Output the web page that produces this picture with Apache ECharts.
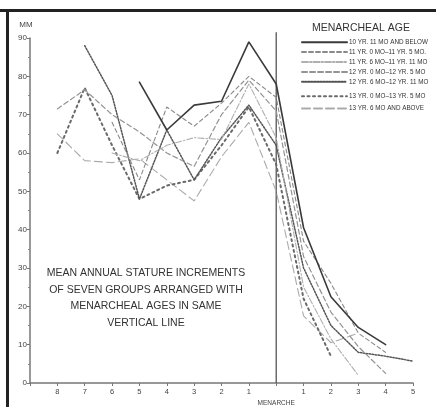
<!DOCTYPE html>
<html>
<head>
<meta charset="utf-8">
<script src="https://cdn.jsdelivr.net/npm/echarts@6/dist/echarts.min.js"></script>
<style>
  html, body { margin: 0; padding: 0; background: #fff; }
  #chart { width: 436px; height: 407px; }
</style>
</head>
<body>
<div id="chart"></div>
<script>
// years before (-) and after (+) menarche
var xValues = [-8, -7, -6, -5, -4, -3, -2, -1, 0, 1, 2, 3, 4, 5];
var xTickLabels = ['8', '7', '6', '5', '4', '3', '2', '1', 'MENARCHE', '1', '2', '3', '4', '5'];
var yTickLabels = ['0', '10', '20', '30', '40', '50', '60', '70', '80', '90'];

var groupNames = [
  '10 YR. 11 MO AND BELOW',
  '11 YR. 0 MO\u201311 YR. 5 MO.',
  '11 YR. 6 MO\u201311 YR. 11 MO',
  '12 YR. 0 MO\u201312 YR. 5 MO',
  '12 YR. 6 MO\u201312 YR. 11 MO',
  '13 YR. 0 MO\u201313 YR. 5 MO',
  '13 YR. 6 MO AND ABOVE'
];

// mean annual stature increments, mm
var g1 = [null, null, null, 78.5, 66, 72.5, 73.5, 89, 78, 40.5, 22.5, 14.5, 10, null];
var g2 = [null, null, 68, 53, 72, 67, 73, 80, 74.5, 37, 26, 13, 8, null];
var g3 = [null, null, 60, 58, 62, 64, 63.5, 78, 64, 25, 11.5, 2, null, null];
var g4 = [71.5, 76.5, 70, 65.5, 60, 56.5, 70, 79, 71, 33, 18.5, 9.5, 2.5, null];
var g5 = [null, 88, 75, 48, 66, 53, 64, 72.5, 62, 30, 15, 8, 7, 5.7];
var g6 = [60, 77, 62, 48, 51.5, 53, 62, 72, 57, 22, 7, null, null, null];
var g7 = [65, 58, 57.5, 58.5, 53, 47.5, 59, 68, 50, 17.5, 10.5, 13, null, null];

// vertical line at menarche (x, from, to)
var menarcheLine = [[0, 0], [0, 91.5]];

var chart = echarts.init(document.getElementById('chart'), null, { renderer: 'canvas' });

function pairs(arr) {
  var out = [];
  for (var i = 0; i < xValues.length; i++) {
    if (arr[i] != null) out.push([xValues[i], arr[i]]);
  }
  return out;
}

// line looks of the old drawing
var styles = [
  { color: '#3a3a3a', width: 1.6, type: 'solid' },
  { color: '#8a8a8a', width: 1.1, type: [4, 3] },
  { color: '#b0b0b0', width: 1.1, type: [6, 2, 1.5, 2] },
  { color: '#939393', width: 1.2, type: [5, 3] },
  { color: '#555555', width: 1.5, type: [1.5, 1.5] },
  { color: '#6a6a6a', width: 2, type: [2, 3.5] },
  { color: '#ababab', width: 1.1, type: [8, 4] }
];
var groups = [g1, g2, g3, g4, g5, g6, g7];

var series = [];
for (var i = 0; i < groups.length; i++) {
  series.push({
    name: groupNames[i],
    type: 'line',
    data: pairs(groups[i]),
    symbol: 'none',
    connectNulls: false,
    clip: false,
    lineStyle: { color: styles[i].color, width: styles[i].width, type: styles[i].type, cap: 'round' },
    itemStyle: { color: styles[i].color },
    z: 10 - i
  });
}
series.push({
  name: 'menarche',
  type: 'line',
  data: menarcheLine,
  symbol: 'none',
  clip: false,
  silent: true,
  lineStyle: { color: '#555', width: 1.3, type: 'solid' },
  z: 1
});

var fontFam = "'Liberation Sans', Arial, sans-serif";

var legendBase = {
  orient: 'vertical',
  left: 301,
  padding: 0,
  itemWidth: 45,
  itemHeight: 8,
  itemStyle: { opacity: 0 },
  textStyle: { fontSize: 6.3, color: '#333', padding: [0, 0, 0, -3], fontFamily: fontFam },
  selectedMode: false
};

var option = {
  backgroundColor: '#fff',
  animation: false,
  textStyle: { fontFamily: fontFam },
  title: [{
    text: 'MENARCHEAL AGE',
    left: 312,
    top: 23,
    padding: 0,
    textStyle: { fontSize: 10.5, fontWeight: 'normal', color: '#333', fontFamily: fontFam }
  }, {
    text: 'MEAN ANNUAL STATURE INCREMENTS\nOF SEVEN GROUPS ARRANGED WITH\nMENARCHEAL AGES IN SAME\nVERTICAL LINE',
    left: 146,
    top: 265,
    padding: 0,
    textAlign: 'center',
    textStyle: { fontSize: 10.5, fontWeight: 'normal', color: '#333', lineHeight: 16.5, fontFamily: fontFam }
  }],
  legend: [
    Object.assign({}, legendBase, { top: 39, itemGap: 3.5, data: groupNames.slice(0, 5) }),
    Object.assign({}, legendBase, { top: 93, itemGap: 6, data: groupNames.slice(5) })
  ],
  grid: { left: 30, right: 23, top: 38, bottom: 23, containLabel: false },
  xAxis: {
    type: 'value',
    min: -9,
    max: 5,
    interval: 1,
    splitLine: { show: false },
    axisLine: { onZero: false, lineStyle: { color: '#777', width: 1.5 } },
    axisTick: { length: 3, lineStyle: { color: '#777' } },
    axisLabel: {
      color: '#444',
      fontSize: 7.5,
      margin: 5,
      formatter: function (v) {
        var idx = Math.round(v) + 8;
        if (idx < 0 || idx >= xTickLabels.length) return '';
        if (v === 0) return '{m|' + xTickLabels[idx] + '}';
        return xTickLabels[idx];
      },
      rich: { m: { fontSize: 6.5, color: '#444', padding: [12, 0, 0, 0], fontFamily: fontFam } }
    }
  },
  yAxis: {
    type: 'value',
    min: 0,
    max: 90,
    interval: 10,
    name: 'MM',
    nameLocation: 'end',
    nameGap: 9,
    nameTextStyle: { fontSize: 8, color: '#444', align: 'center', padding: [0, 8, 0, 0] },
    splitLine: { show: false },
    axisLine: { show: true, onZero: false, lineStyle: { color: '#777', width: 1.5 } },
    axisTick: { show: true, length: 3, lineStyle: { color: '#777' } },
    minorTick: { show: true, splitNumber: 2, length: 2, lineStyle: { color: '#888' } },
    axisLabel: {
      color: '#444',
      fontSize: 8,
      margin: 3,
      formatter: function (v) { return yTickLabels[Math.round(v / 10)]; }
    }
  },
  graphic: [
    { type: 'rect', shape: { x: 0, y: 9, width: 436, height: 3 }, style: { fill: '#222' }, silent: true },
    { type: 'rect', shape: { x: 6, y: 9, width: 3, height: 398 }, style: { fill: '#222' }, silent: true }
  ],
  series: series
};

chart.setOption(option);
</script>
</body>
</html>
